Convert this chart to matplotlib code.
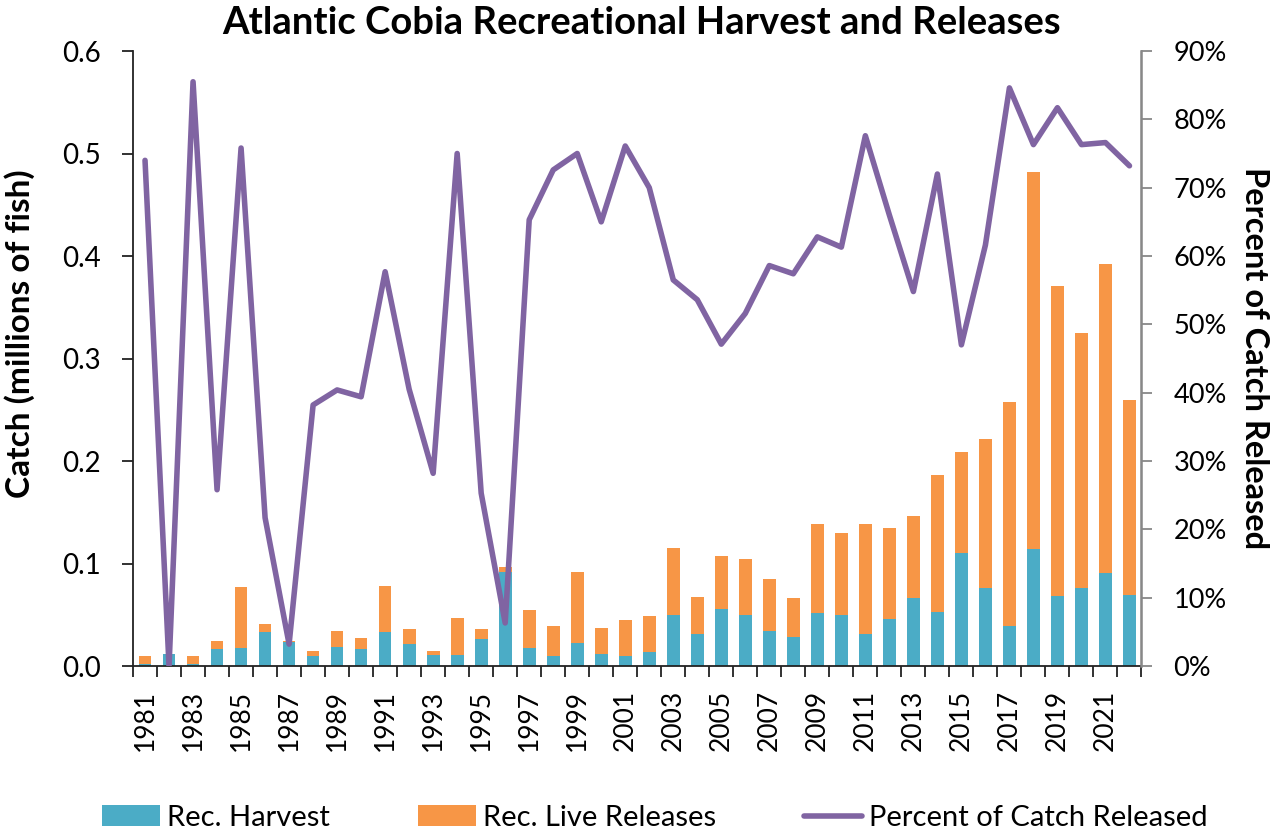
import numpy as np
import matplotlib
matplotlib.use("Agg")
import matplotlib.pyplot as plt
from matplotlib.ticker import FuncFormatter, FixedLocator

plt.rcParams['font.family'] = ['Lato', 'DejaVu Sans']

anos = list(range(1981, 2023))
harvest = [0.002, 0.012, 0.002, 0.017, 0.018, 0.033, 0.023, 0.010, 0.019, 0.017,
           0.033, 0.021, 0.011, 0.011, 0.026, 0.092, 0.018, 0.010, 0.022, 0.012,
           0.010, 0.014, 0.050, 0.031, 0.056, 0.050, 0.034, 0.028, 0.052, 0.050,
           0.031, 0.046, 0.066, 0.053, 0.110, 0.076, 0.039, 0.114, 0.068, 0.076,
           0.091, 0.069]
total = [0.010, 0.012, 0.010, 0.024, 0.077, 0.041, 0.024, 0.015, 0.034, 0.027,
         0.078, 0.036, 0.015, 0.047, 0.036, 0.097, 0.055, 0.039, 0.092, 0.037,
         0.045, 0.049, 0.115, 0.067, 0.107, 0.104, 0.085, 0.066, 0.139, 0.130,
         0.139, 0.135, 0.146, 0.186, 0.209, 0.221, 0.258, 0.482, 0.371, 0.325,
         0.392, 0.260]
releases = [max(t - h, 0) for t, h in zip(total, harvest)]
pct_released = [74.0, 0.0, 85.5, 25.8, 75.8, 21.7, 3.2, 38.2, 40.4, 39.4,
                57.7, 40.5, 28.2, 75.0, 25.3, 6.3, 65.3, 72.6, 75.0, 65.0,
                76.1, 70.0, 56.5, 53.6, 47.1, 51.6, 58.6, 57.4, 62.8, 61.3,
                77.6, 66.0, 54.8, 72.0, 47.0, 61.6, 84.6, 76.3, 81.7, 76.3,
                76.6, 73.2]

azul = '#4BACC6'
laranja = '#F79646'
roxo = '#8064A2'

x = np.arange(len(anos))

fig = plt.figure(figsize=(12.84, 8.32), dpi=100)
ax = fig.add_axes([0.1036, 0.1995, 0.7854, 0.7392])
ax2 = ax.twinx()

b1 = ax.bar(x, harvest, width=0.53, color=azul, label='Rec. Harvest')
b2 = ax.bar(x, releases, width=0.53, bottom=harvest, color=laranja,
            label='Rec. Live Releases')
l1, = ax2.plot(x, pct_released, color=roxo, lw=4.0, label='Percent of Catch Released',
               solid_joinstyle='round', solid_capstyle='round')

ax.set_xlim(-0.5, len(anos) - 0.5)
ax.set_ylim(0, 0.6)
ax.set_yticks(np.arange(0, 0.61, 0.1))
ax.yaxis.set_major_formatter(FuncFormatter(lambda v, p: f'{v:.1f}'))
ax2.set_ylim(0, 90)
ax2.set_yticks(np.arange(0, 91, 10))
ax2.yaxis.set_major_formatter(FuncFormatter(lambda v, p: f'{v:.0f}%'))

# ticks entre categorias, rotulos em anos impares
ax.xaxis.set_major_locator(FixedLocator(np.arange(-0.5, len(anos), 1.0)))
ax.xaxis.set_minor_locator(FixedLocator(x[::2]))
ax.set_xticklabels([])
ax.set_xticklabels([str(a) for a in anos[::2]], minor=True, rotation=90, fontsize=19)
ax.tick_params(axis='x', which='major', length=8, width=1.3, color='#222222')
ax.tick_params(axis='x', which='minor', length=0, pad=17)
ax.tick_params(axis='y', length=8, width=1.3, labelsize=20, color='#222222', pad=15)
ax2.tick_params(axis='y', length=8, width=1.3, labelsize=19.5, color='#888888', pad=15)

for a in (ax, ax2):
    a.spines['top'].set_visible(False)
ax.spines['left'].set_color('#222222')
ax.spines['left'].set_linewidth(1.3)
ax.spines['bottom'].set_color('#222222')
ax.spines['bottom'].set_linewidth(1.3)
ax2.spines['right'].set_color('#888888')
ax2.spines['right'].set_linewidth(1.8)
ax2.spines['left'].set_visible(False)
ax2.spines['bottom'].set_visible(False)

ax.set_ylabel('Catch (millions of fish)', fontsize=24, fontweight='bold')
ax.yaxis.set_label_coords(-0.097, 0.54)
ax2.set_ylabel('Percent of Catch Released', fontsize=23.5, fontweight='bold',
               rotation=270, labelpad=30)
fig.suptitle('Atlantic Cobia Recreational Harvest and Releases', fontsize=27.5,
             fontweight='bold', y=0.993)

fig.legend(handles=[b1, b2, l1], loc='lower center', ncol=3, frameon=False,
           fontsize=21, bbox_to_anchor=(0.51, -0.03), columnspacing=3.0,
           handlelength=2.0, handletextpad=0.25)

fig.savefig('out.png', dpi=100)
